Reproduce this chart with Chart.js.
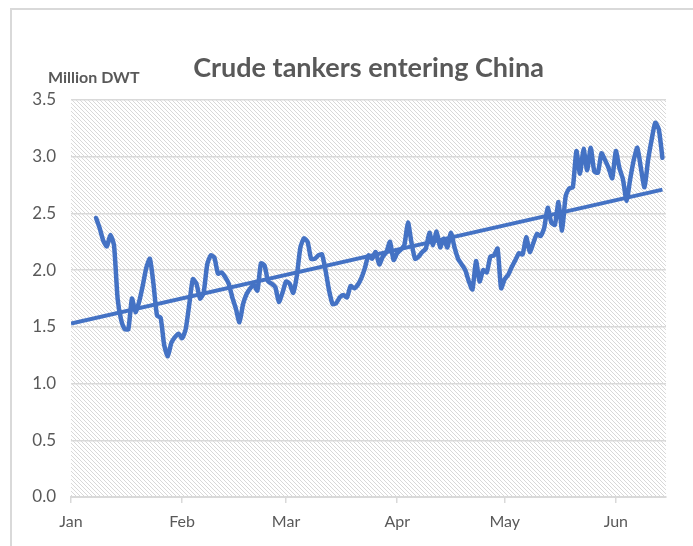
<!DOCTYPE html>
<html>
<head>
<meta charset="utf-8">
<script src="https://cdn.jsdelivr.net/npm/chart.js@4"></script>
<style>
  html, body { margin: 0; padding: 0; background: #fff; overflow: hidden; }
  #frame { position: absolute; left: 10px; top: 8px; width: 700px; height: 560px; border: 2px solid #d9d9d9; }
  #wrap { position: absolute; left: 0; top: 0; width: 693px; height: 546px; }
</style>
</head>
<body>
<div id="frame"></div>
<div id="wrap"><canvas id="chart" width="693" height="546"></canvas></div>
<script>
// day-of-year offsets (2020, Jan 1 = 0) and month labels for the x axis
const monthLabels = ["Jan", "Feb", "Mar", "Apr", "May", "Jun"];
const monthStarts = [0, 31, 60, 91, 121, 152];
const axisEndDay = 166;

// daily series, first value is on day 7 (Jan 8)
const firstDay = 7;
const tankerDwt = [
  2.46, 2.37, 2.26, 2.21, 2.31, 2.22, 1.75, 1.56, 1.48, 1.48,
  1.75, 1.63, 1.72, 1.86, 2.02, 2.10, 1.88, 1.60, 1.58, 1.34,
  1.24, 1.36, 1.41, 1.44, 1.40, 1.48, 1.70, 1.92, 1.88, 1.75,
  1.80, 2.05, 2.13, 2.11, 1.97, 1.98, 1.94, 1.88, 1.76, 1.66,
  1.54, 1.70, 1.79, 1.84, 1.87, 1.82, 2.06, 2.04, 1.90, 1.88,
  1.85, 1.72, 1.80, 1.90, 1.88, 1.80, 1.95, 2.20, 2.28, 2.25,
  2.10, 2.10, 2.13, 2.14, 2.00, 1.82, 1.70, 1.71, 1.76, 1.78,
  1.76, 1.86, 1.84, 1.87, 1.93, 2.02, 2.13, 2.10, 2.16, 2.05,
  2.12, 2.16, 2.25, 2.09, 2.15, 2.18, 2.22, 2.42, 2.24, 2.10,
  2.12, 2.16, 2.19, 2.33, 2.22, 2.34, 2.20, 2.28, 2.20, 2.33,
  2.20, 2.10, 2.05, 2.00, 1.90, 1.83, 2.08, 1.90, 2.00, 1.98,
  2.12, 2.13, 2.19, 1.84, 1.92, 1.96, 2.03, 2.09, 2.15, 2.14,
  2.29, 2.16, 2.24, 2.32, 2.30, 2.37, 2.55, 2.42, 2.40, 2.60,
  2.35, 2.65, 2.72, 2.73, 3.05, 2.85, 3.07, 2.88, 3.08, 2.87,
  2.86, 3.03, 2.97, 2.90, 2.81, 3.05, 2.90, 2.80, 2.61, 2.80,
  2.97, 3.08, 2.90, 2.73, 2.97, 3.15, 3.30, 3.24, 2.99
];

// linear trend line end points
const trendDays = [0, 165];
const trendValues = [1.53, 2.71];

const yTicks = [0, 0.5, 1.0, 1.5, 2.0, 2.5, 3.0, 3.5];

const textGrey = "#595959";
const lineBlue = "#4472C4";

function makeHatch() {
  const c = document.createElement("canvas");
  c.width = 4;
  c.height = 4;
  const g = c.getContext("2d");
  g.fillStyle = "#fff";
  g.fillRect(0, 0, 4, 4);
  g.fillStyle = "#d8d8d8";
  for (let i = 0; i < 4; i++) g.fillRect(i, i, 1, 1);
  return g.createPattern(c, "repeat");
}

const hatchPlugin = {
  id: "hatch",
  beforeDraw(chart) {
    const { ctx, chartArea: a } = chart;
    ctx.save();
    ctx.fillStyle = makeHatch();
    ctx.fillRect(a.left, a.top, a.right - a.left, a.bottom - a.top);
    ctx.restore();
  },
  afterDraw(chart) {
    const { ctx, chartArea: a } = chart;
    ctx.save();
    ctx.fillStyle = textGrey;
    ctx.textAlign = "center";
    ctx.textBaseline = "middle";
    ctx.font = "bold 27px Lato";
    ctx.fillText("Crude tankers entering China", (a.left + a.right) / 2, 68);
    ctx.font = "bold 16px Lato";
    ctx.textAlign = "left";
    ctx.fillText("Million DWT", 48, 78);
    ctx.restore();
  }
};

const seriesPoints = tankerDwt.map((v, i) => ({ x: firstDay + i, y: v }));
const trendPoints = trendDays.map((d, i) => ({ x: d, y: trendValues[i] }));

new Chart(document.getElementById("chart"), {
  type: "line",
  data: {
    datasets: [
      {
        label: "Crude tankers",
        data: seriesPoints,
        borderColor: lineBlue,
        borderWidth: 4.5,
        pointRadius: 0,
        tension: 0.2,
        borderJoinStyle: "round",
        borderCapStyle: "round",
      },
      {
        label: "Trend",
        data: trendPoints,
        borderColor: lineBlue,
        borderWidth: 4,
        pointRadius: 0,
        tension: 0,
      },
    ],
  },
  options: {
    responsive: false,
    animation: false,
    layout: { padding: { top: 100, right: 27, left: 0, bottom: 0 } },
    plugins: {
      legend: { display: false },
      title: { display: false },
      tooltip: { enabled: false },
    },
    scales: {
      x: {
        type: "linear",
        min: 0,
        max: axisEndDay,
        afterBuildTicks(scale) {
          scale.ticks = monthStarts.map((v) => ({ value: v }));
        },
        afterFit(scale) {
          scale.height = 49;
        },
        grid: {
          drawOnChartArea: false,
          drawTicks: true,
          tickLength: 6,
          color: "#d9d9d9",
          lineWidth: 1.5,
        },
        border: { display: true, color: "#d9d9d9", width: 2 },
        ticks: {
          autoSkip: false,
          maxRotation: 0,
          padding: 9,
          color: textGrey,
          font: { family: "Lato", size: 16 },
          callback: (v) => monthLabels[monthStarts.indexOf(v)],
        },
      },
      y: {
        min: 0,
        max: 3.5,
        afterBuildTicks(scale) {
          scale.ticks = yTicks.map((v) => ({ value: v }));
        },
        afterFit(scale) {
          scale.width = 71;
        },
        grid: { color: "#d9d9d9", lineWidth: 1.5, drawTicks: false },
        border: { display: false },
        ticks: {
          padding: 15,
          color: textGrey,
          font: { family: "Lato", size: 17 },
          callback: (v) => v.toFixed(1),
        },
      },
    },
  },
  plugins: [hatchPlugin],
});
</script>
</body>
</html>
